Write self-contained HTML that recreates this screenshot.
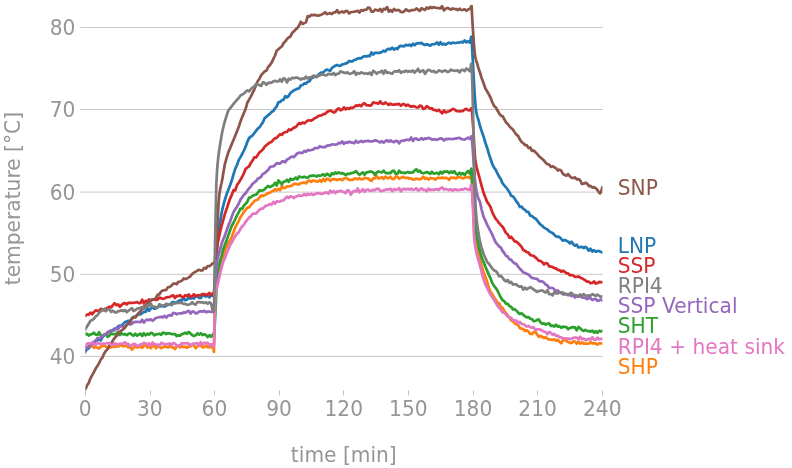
<!DOCTYPE html>
<html><head><meta charset="utf-8"><title>temperature</title>
<style>
html,body{margin:0;padding:0;background:#fff;}
svg{display:block;font-family:"DejaVu Sans","Liberation Sans",sans-serif;font-size:20.2px;}
.g line{stroke:#c8c8c8;stroke-width:1;}
.t line{stroke:#c2c2c2;stroke-width:1;}
.c path{fill:none;stroke-width:2.75;stroke-linejoin:round;stroke-linecap:butt;}
.a text{fill:#969696;}
.l text{font-size:20.2px;}
</style></head><body>
<svg width="792" height="468" viewBox="0 0 792 468">
<rect width="792" height="468" fill="#ffffff"/>
<g class="g">
<line x1="80.2" x2="602.9" y1="27.5" y2="27.5"/>
<line x1="80.2" x2="602.9" y1="109.5" y2="109.5"/>
<line x1="80.2" x2="602.9" y1="192.1" y2="192.1"/>
<line x1="80.2" x2="602.9" y1="274.3" y2="274.3"/>
<line x1="80.2" x2="602.9" y1="356.4" y2="356.4"/>
</g>
<g class="t">
<line x1="85.5" x2="85.5" y1="390.5" y2="395.4"/>
<line x1="150.5" x2="150.5" y1="390.5" y2="395.4"/>
<line x1="214.5" x2="214.5" y1="390.5" y2="395.4"/>
<line x1="279.5" x2="279.5" y1="390.5" y2="395.4"/>
<line x1="343.5" x2="343.5" y1="390.5" y2="395.4"/>
<line x1="408.5" x2="408.5" y1="390.5" y2="395.4"/>
<line x1="473.5" x2="473.5" y1="390.5" y2="395.4"/>
<line x1="537.5" x2="537.5" y1="390.5" y2="395.4"/>
<line x1="602.5" x2="602.5" y1="390.5" y2="395.4"/>
</g>
<g class="a">
<text transform="translate(85.20,416.30) scale(1,1.03)" text-anchor="middle">0</text>
<text transform="translate(149.83,416.30) scale(1,1.03)" text-anchor="middle">30</text>
<text transform="translate(214.45,416.30) scale(1,1.03)" text-anchor="middle">60</text>
<text transform="translate(279.07,416.30) scale(1,1.03)" text-anchor="middle">90</text>
<text transform="translate(343.70,416.30) scale(1,1.03)" text-anchor="middle">120</text>
<text transform="translate(408.32,416.30) scale(1,1.03)" text-anchor="middle">150</text>
<text transform="translate(472.95,416.30) scale(1,1.03)" text-anchor="middle">180</text>
<text transform="translate(537.57,416.30) scale(1,1.03)" text-anchor="middle">210</text>
<text transform="translate(602.20,416.30) scale(1,1.03)" text-anchor="middle">240</text>
<text transform="translate(75.40,364.10) scale(1,1.03)" text-anchor="end">40</text>
<text transform="translate(75.40,281.87) scale(1,1.03)" text-anchor="end">50</text>
<text transform="translate(75.40,199.65) scale(1,1.03)" text-anchor="end">60</text>
<text transform="translate(75.40,117.42) scale(1,1.03)" text-anchor="end">70</text>
<text transform="translate(75.40,35.20) scale(1,1.03)" text-anchor="end">80</text>
<text transform="translate(343.80,461.50) scale(1,1.03)" text-anchor="middle">time [min]</text>
<text transform="translate(20.0,198.6) rotate(-90) scale(1,1.03)" text-anchor="middle">temperature [°C]</text>
</g>
<clipPath id="ax"><rect x="85.4" y="5" width="517" height="385.6"/></clipPath>
<g class="c" clip-path="url(#ax)">
<path d="M82.8,355.6 L85.3,351.7 L87.0,349.0 L88.7,348.4 L90.5,346.0 L92.2,344.5 L93.9,343.2 L95.6,340.5 L97.4,340.4 L99.1,338.6 L100.8,340.4 L102.5,336.9 L104.3,335.2 L106.0,334.1 L107.7,332.6 L109.4,331.2 L111.2,330.6 L112.9,330.1 L114.6,328.5 L116.3,328.4 L118.1,326.4 L119.8,325.6 L121.5,325.7 L123.2,323.9 L125.0,322.1 L126.7,321.4 L128.4,320.9 L130.1,321.0 L131.9,318.2 L133.6,317.2 L135.3,317.2 L137.0,314.8 L138.8,314.3 L140.5,314.3 L142.2,313.2 L143.9,312.0 L145.7,311.8 L147.4,308.2 L149.1,310.8 L150.8,308.5 L152.5,307.4 L154.3,308.6 L156.0,308.5 L157.7,307.0 L159.4,306.0 L161.2,306.4 L162.9,305.9 L164.6,306.6 L166.3,305.5 L168.1,304.5 L169.8,304.7 L171.5,303.0 L173.2,301.9 L175.0,302.7 L176.7,302.2 L178.4,301.0 L180.1,300.1 L181.9,300.6 L183.6,297.7 L185.3,300.2 L187.0,299.7 L188.8,297.4 L190.5,298.6 L192.2,297.4 L193.9,298.6 L195.7,295.8 L197.4,296.5 L199.1,297.8 L200.8,298.0 L202.6,294.6 L204.3,296.0 L206.0,296.5 L207.7,295.5 L209.5,297.4 L211.2,294.6 L212.9,296.0 L213.0,295.9 L213.3,295.6 L213.6,295.3 L213.9,295.2 L214.2,294.0 L214.5,291.6 L214.6,290.4 L214.8,288.5 L215.1,284.9 L215.4,281.2 L215.7,277.3 L216.0,272.0 L216.3,265.8 L216.3,264.7 L216.6,259.1 L216.9,252.5 L217.2,246.5 L217.5,241.5 L217.8,238.0 L218.1,235.5 L218.1,235.2 L218.4,232.8 L218.7,230.6 L219.0,228.6 L219.3,226.8 L219.6,225.0 L219.8,223.9 L219.9,223.3 L220.2,221.4 L220.5,219.6 L220.8,217.7 L221.1,215.9 L221.4,214.1 L221.5,213.4 L221.7,212.6 L222.0,211.1 L222.3,209.7 L222.6,208.4 L222.9,207.2 L223.2,206.1 L223.2,206.0 L223.5,204.9 L223.8,203.7 L225.0,199.3 L226.7,194.1 L228.4,189.8 L230.1,185.3 L231.9,180.0 L233.6,174.2 L235.3,168.6 L237.0,165.0 L238.8,159.9 L240.5,157.1 L242.2,153.9 L243.9,150.5 L245.7,146.6 L247.4,141.7 L249.1,138.1 L250.8,136.6 L252.6,135.3 L254.3,133.2 L256.0,130.9 L257.7,128.7 L259.5,127.2 L261.2,124.8 L262.9,122.2 L264.6,118.2 L266.4,116.8 L268.1,115.1 L269.8,114.0 L271.5,111.9 L273.3,111.1 L275.0,108.3 L276.7,106.4 L278.4,102.3 L280.1,101.9 L281.9,100.2 L283.6,99.6 L285.3,96.2 L287.0,97.3 L288.8,95.9 L290.5,92.8 L292.2,91.6 L293.9,90.3 L295.7,89.6 L297.4,88.7 L299.1,88.4 L300.8,85.5 L302.6,85.0 L304.3,83.4 L306.0,83.6 L307.7,81.8 L309.5,81.2 L311.2,78.2 L312.9,77.7 L314.6,76.1 L316.4,76.9 L318.1,75.2 L319.8,73.5 L321.5,72.5 L323.3,72.4 L325.0,70.6 L326.7,69.6 L328.4,70.0 L330.2,70.9 L331.9,67.9 L333.6,66.9 L335.3,65.7 L337.1,64.9 L338.8,65.9 L340.5,65.6 L342.2,64.3 L344.0,64.1 L345.7,63.4 L347.4,62.9 L349.1,61.0 L350.8,61.4 L352.6,61.3 L354.3,59.9 L356.0,59.5 L357.7,58.5 L359.5,58.2 L361.2,58.4 L362.9,56.7 L364.6,56.2 L366.4,56.5 L368.1,55.8 L369.8,56.2 L371.5,52.4 L373.3,54.5 L375.0,52.8 L376.7,52.9 L378.4,52.9 L380.2,52.6 L381.9,52.0 L383.6,50.7 L385.3,51.5 L387.1,49.3 L388.8,48.9 L390.5,49.3 L392.2,47.7 L394.0,49.7 L395.7,48.3 L397.4,49.0 L399.1,46.6 L400.9,45.9 L402.6,46.1 L404.3,46.3 L406.0,44.8 L407.8,45.4 L409.5,44.7 L411.2,46.0 L412.9,43.7 L414.6,45.2 L416.4,43.5 L418.1,43.2 L419.8,43.4 L421.5,42.9 L423.3,44.3 L425.0,45.1 L426.7,44.3 L428.4,44.7 L430.2,45.7 L431.9,44.3 L433.6,44.2 L435.3,43.8 L437.1,42.4 L438.8,44.7 L440.5,42.2 L442.2,44.5 L444.0,43.7 L445.7,44.7 L447.4,43.5 L449.1,42.6 L450.9,43.6 L452.6,42.6 L454.3,42.9 L456.0,43.0 L457.8,42.7 L459.5,42.6 L461.2,41.9 L462.9,42.5 L464.7,40.5 L466.4,42.3 L468.1,41.2 L469.8,42.6 L470.5,40.5 L470.8,38.6 L471.1,37.1 L471.4,36.6 L471.6,36.9 L471.7,38.5 L472.0,44.2 L472.3,50.9 L472.6,56.7 L472.9,62.4 L473.2,68.2 L473.3,69.7 L473.5,74.2 L473.8,80.0 L474.1,85.5 L474.4,90.4 L474.7,94.9 L475.0,99.2 L475.0,99.2 L475.3,103.1 L475.6,106.6 L475.9,109.3 L476.2,111.2 L476.5,112.9 L476.7,114.0 L476.8,114.3 L477.1,115.6 L477.4,116.7 L477.7,117.7 L478.0,118.6 L478.3,119.5 L478.4,120.0 L478.6,120.5 L478.9,121.7 L479.2,122.8 L479.5,124.0 L479.8,125.2 L480.1,126.3 L480.2,126.6 L480.4,127.3 L480.7,128.2 L481.0,129.2 L481.3,130.1 L481.6,131.0 L481.9,131.8 L481.9,131.8 L483.6,136.7 L485.3,142.5 L487.1,147.7 L488.8,153.6 L490.5,158.8 L492.2,163.8 L494.0,167.5 L495.7,169.9 L497.4,173.3 L499.1,176.6 L500.9,179.2 L502.6,183.4 L504.3,185.4 L506.0,187.3 L507.8,189.8 L509.5,192.3 L511.2,195.8 L512.9,196.3 L514.7,198.8 L516.4,201.5 L518.1,203.5 L519.8,207.0 L521.6,206.6 L523.3,208.9 L525.0,209.9 L526.7,211.7 L528.5,212.1 L530.2,215.7 L531.9,215.9 L533.6,217.6 L535.4,218.5 L537.1,220.3 L538.8,222.7 L540.5,224.5 L542.2,225.8 L544.0,227.6 L545.7,228.6 L547.4,229.4 L549.1,231.2 L550.9,232.3 L552.6,233.0 L554.3,234.8 L556.0,236.4 L557.8,236.6 L559.5,237.1 L561.2,238.9 L562.9,240.7 L564.7,239.9 L566.4,240.8 L568.1,241.5 L569.8,243.4 L571.6,241.7 L573.3,244.3 L575.0,245.7 L576.7,244.7 L578.5,247.4 L580.2,247.2 L581.9,246.8 L583.6,248.0 L585.4,246.9 L587.1,248.2 L588.8,250.7 L590.5,248.7 L592.3,251.5 L594.0,250.2 L595.7,251.6 L597.4,251.2 L599.2,251.0 L600.9,251.9 L602.6,252.6 L605.1,252.6" stroke="#1f77b4"/>
<path d="M82.8,346.8 L85.3,347.0 L87.0,347.2 L88.7,346.3 L90.5,345.3 L92.2,346.3 L93.9,347.8 L95.6,346.5 L97.4,347.8 L99.1,348.4 L100.8,346.9 L102.5,345.8 L104.3,345.6 L106.0,346.8 L107.7,347.7 L109.4,347.1 L111.2,347.4 L112.9,346.4 L114.6,347.1 L116.3,346.3 L118.1,346.5 L119.8,345.5 L121.5,345.2 L123.2,346.3 L125.0,345.7 L126.7,345.8 L128.4,347.4 L130.1,346.6 L131.9,349.6 L133.6,347.7 L135.3,346.1 L137.0,347.5 L138.8,347.1 L140.5,346.0 L142.2,347.8 L143.9,345.9 L145.7,343.6 L147.4,347.5 L149.1,346.1 L150.8,348.2 L152.5,346.1 L154.3,345.5 L156.0,348.2 L157.7,345.6 L159.4,346.9 L161.2,348.1 L162.9,346.8 L164.6,346.6 L166.3,346.8 L168.1,347.5 L169.8,345.9 L171.5,347.3 L173.2,347.3 L175.0,349.0 L176.7,346.4 L178.4,345.8 L180.1,347.4 L181.9,346.3 L183.6,347.0 L185.3,346.8 L187.0,347.9 L188.8,346.0 L190.5,346.6 L192.2,344.1 L193.9,345.8 L195.7,348.2 L197.4,346.0 L199.1,346.0 L200.8,345.5 L202.6,347.3 L204.3,346.9 L206.0,345.5 L207.7,347.4 L209.5,347.0 L211.2,347.5 L212.9,346.1 L213.0,346.2 L213.3,346.7 L213.6,349.3 L213.9,351.9 L214.2,341.4 L214.5,320.1 L214.6,311.5 L214.8,302.5 L215.1,297.9 L215.4,295.1 L215.7,292.9 L216.0,291.1 L216.3,289.7 L216.3,289.5 L216.6,288.4 L216.9,287.1 L217.2,285.6 L217.5,283.9 L217.8,282.2 L218.1,280.6 L218.1,280.5 L218.4,278.8 L218.7,277.2 L219.0,275.6 L219.3,274.0 L219.6,272.5 L219.8,271.5 L219.9,271.0 L220.2,269.5 L220.5,268.1 L220.8,266.8 L221.1,265.5 L221.4,264.2 L221.5,263.6 L221.7,262.9 L222.0,261.7 L222.3,260.5 L222.6,259.3 L222.9,258.1 L223.2,256.9 L223.2,256.8 L223.5,255.7 L223.8,254.5 L225.0,250.1 L226.7,246.3 L228.4,242.9 L230.1,240.4 L231.9,236.5 L233.6,231.9 L235.3,227.0 L237.0,224.2 L238.8,220.8 L240.5,217.2 L242.2,214.7 L243.9,211.8 L245.7,209.8 L247.4,207.6 L249.1,207.4 L250.8,205.1 L252.6,203.2 L254.3,201.1 L256.0,200.3 L257.7,199.7 L259.5,197.5 L261.2,195.4 L262.9,196.1 L264.6,195.3 L266.4,194.2 L268.1,193.3 L269.8,192.8 L271.5,191.5 L273.3,191.0 L275.0,189.1 L276.7,190.5 L278.4,188.9 L280.1,190.1 L281.9,186.0 L283.6,188.1 L285.3,187.9 L287.0,186.3 L288.8,186.4 L290.5,186.1 L292.2,185.4 L293.9,183.9 L295.7,183.8 L297.4,184.4 L299.1,184.4 L300.8,183.0 L302.6,182.8 L304.3,182.7 L306.0,183.3 L307.7,181.1 L309.5,180.6 L311.2,181.9 L312.9,180.5 L314.6,180.9 L316.4,181.4 L318.1,181.6 L319.8,180.0 L321.5,181.7 L323.3,179.0 L325.0,181.1 L326.7,178.9 L328.4,179.1 L330.2,180.8 L331.9,179.6 L333.6,179.1 L335.3,179.3 L337.1,180.0 L338.8,179.4 L340.5,179.3 L342.2,180.2 L344.0,178.4 L345.7,178.5 L347.4,178.4 L349.1,180.0 L350.8,179.8 L352.6,180.0 L354.3,178.7 L356.0,178.5 L357.7,179.4 L359.5,178.2 L361.2,179.3 L362.9,179.2 L364.6,177.8 L366.4,178.3 L368.1,178.3 L369.8,180.1 L371.5,180.9 L373.3,178.2 L375.0,178.3 L376.7,176.0 L378.4,178.4 L380.2,178.2 L381.9,177.1 L383.6,178.9 L385.3,176.6 L387.1,177.9 L388.8,178.2 L390.5,176.8 L392.2,178.9 L394.0,179.1 L395.7,176.6 L397.4,176.6 L399.1,178.6 L400.9,178.0 L402.6,176.8 L404.3,177.7 L406.0,177.9 L407.8,177.8 L409.5,178.8 L411.2,178.3 L412.9,179.7 L414.6,179.3 L416.4,178.6 L418.1,179.0 L419.8,179.3 L421.5,178.6 L423.3,176.7 L425.0,178.8 L426.7,178.0 L428.4,179.6 L430.2,178.0 L431.9,178.5 L433.6,178.3 L435.3,179.6 L437.1,178.1 L438.8,177.7 L440.5,178.2 L442.2,177.5 L444.0,178.1 L445.7,177.9 L447.4,178.2 L449.1,179.8 L450.9,177.5 L452.6,177.9 L454.3,177.7 L456.0,178.6 L457.8,176.7 L459.5,177.2 L461.2,177.8 L462.9,178.4 L464.7,177.8 L466.4,177.3 L468.1,177.0 L469.8,178.1 L470.5,177.0 L470.8,175.9 L471.1,175.0 L471.4,174.8 L471.6,174.8 L471.7,175.9 L472.0,180.0 L472.3,185.9 L472.6,192.3 L472.9,198.3 L473.2,203.5 L473.3,204.8 L473.5,209.0 L473.8,214.5 L474.1,219.6 L474.4,223.9 L474.7,227.1 L475.0,229.9 L475.0,229.9 L475.3,232.5 L475.6,234.7 L475.9,236.9 L476.2,238.9 L476.5,240.9 L476.7,242.4 L476.8,243.0 L477.1,244.9 L477.4,246.8 L477.7,248.7 L478.0,250.5 L478.3,252.2 L478.4,252.9 L478.6,253.8 L478.9,255.3 L479.2,256.7 L479.5,258.1 L479.8,259.4 L480.1,260.6 L480.2,260.9 L480.4,261.7 L480.7,262.8 L481.0,263.9 L481.3,264.9 L481.6,265.9 L481.9,266.9 L481.9,266.9 L483.6,272.2 L485.3,276.8 L487.1,281.8 L488.8,287.5 L490.5,291.7 L492.2,294.0 L494.0,297.3 L495.7,299.8 L497.4,302.5 L499.1,303.2 L500.9,307.1 L502.6,307.8 L504.3,311.2 L506.0,313.2 L507.8,315.5 L509.5,317.8 L511.2,320.5 L512.9,321.3 L514.7,323.2 L516.4,324.5 L518.1,324.8 L519.8,328.1 L521.6,328.6 L523.3,329.1 L525.0,331.0 L526.7,330.1 L528.5,331.6 L530.2,333.9 L531.9,334.1 L533.6,332.1 L535.4,331.8 L537.1,334.4 L538.8,336.8 L540.5,336.0 L542.2,336.8 L544.0,338.0 L545.7,337.2 L547.4,338.6 L549.1,339.5 L550.9,339.6 L552.6,339.9 L554.3,339.3 L556.0,340.6 L557.8,339.9 L559.5,341.8 L561.2,343.2 L562.9,340.3 L564.7,339.2 L566.4,341.0 L568.1,342.0 L569.8,342.8 L571.6,343.0 L573.3,341.4 L575.0,341.6 L576.7,343.7 L578.5,341.5 L580.2,343.7 L581.9,342.5 L583.6,343.5 L585.4,343.5 L587.1,343.6 L588.8,343.7 L590.5,342.1 L592.3,343.4 L594.0,343.2 L595.7,343.6 L597.4,344.6 L599.2,343.4 L600.9,343.4 L602.6,343.5 L605.1,343.5" stroke="#ff7f0e"/>
<path d="M82.8,334.8 L85.3,334.2 L87.0,333.8 L88.7,335.5 L90.5,334.5 L92.2,334.0 L93.9,332.7 L95.6,334.5 L97.4,335.0 L99.1,332.3 L100.8,335.5 L102.5,336.0 L104.3,334.6 L106.0,334.7 L107.7,336.9 L109.4,335.6 L111.2,333.2 L112.9,334.2 L114.6,334.0 L116.3,334.0 L118.1,331.6 L119.8,335.0 L121.5,333.5 L123.2,334.4 L125.0,334.1 L126.7,335.2 L128.4,333.9 L130.1,333.3 L131.9,334.8 L133.6,335.7 L135.3,333.8 L137.0,335.7 L138.8,334.5 L140.5,333.6 L142.2,335.9 L143.9,333.3 L145.7,335.3 L147.4,333.7 L149.1,334.7 L150.8,332.8 L152.5,333.3 L154.3,335.4 L156.0,334.4 L157.7,334.2 L159.4,333.7 L161.2,334.7 L162.9,332.7 L164.6,333.0 L166.3,334.0 L168.1,333.3 L169.8,333.4 L171.5,334.1 L173.2,334.0 L175.0,334.0 L176.7,336.0 L178.4,335.3 L180.1,335.6 L181.9,334.2 L183.6,333.6 L185.3,332.6 L187.0,333.8 L188.8,331.9 L190.5,333.6 L192.2,335.0 L193.9,336.0 L195.7,335.3 L197.4,333.3 L199.1,334.7 L200.8,333.3 L202.6,335.1 L204.3,334.1 L206.0,335.1 L207.7,337.0 L209.5,335.2 L211.2,336.8 L212.9,334.4 L213.0,334.4 L213.3,334.3 L213.6,334.2 L213.9,334.0 L214.2,331.8 L214.5,327.8 L214.6,325.9 L214.8,323.1 L215.1,318.4 L215.4,312.7 L215.7,305.8 L216.0,298.5 L216.3,291.4 L216.3,290.3 L216.6,285.1 L216.9,280.4 L217.2,277.5 L217.5,275.1 L217.8,273.0 L218.1,271.4 L218.1,271.2 L218.4,269.4 L218.7,267.8 L219.0,266.2 L219.3,264.6 L219.6,263.1 L219.8,262.2 L219.9,261.8 L220.2,260.6 L220.5,259.5 L220.8,258.4 L221.1,257.4 L221.4,256.4 L221.5,256.0 L221.7,255.3 L222.0,254.1 L222.3,253.0 L222.6,251.8 L222.9,250.7 L223.2,249.5 L223.2,249.4 L223.5,248.6 L223.8,247.7 L225.0,244.4 L226.7,240.1 L228.4,235.1 L230.1,230.3 L231.9,225.6 L233.6,222.5 L235.3,219.0 L237.0,215.4 L238.8,212.2 L240.5,208.7 L242.2,208.8 L243.9,205.7 L245.7,203.6 L247.4,201.8 L249.1,197.6 L250.8,197.3 L252.6,195.8 L254.3,195.0 L256.0,194.7 L257.7,193.0 L259.5,190.2 L261.2,190.7 L262.9,190.4 L264.6,189.4 L266.4,187.3 L268.1,186.0 L269.8,187.1 L271.5,186.2 L273.3,185.2 L275.0,182.9 L276.7,185.5 L278.4,180.5 L280.1,182.3 L281.9,184.2 L283.6,181.6 L285.3,181.5 L287.0,179.7 L288.8,181.8 L290.5,178.8 L292.2,179.8 L293.9,179.2 L295.7,177.6 L297.4,179.2 L299.1,176.5 L300.8,177.0 L302.6,177.4 L304.3,176.8 L306.0,177.4 L307.7,177.7 L309.5,176.2 L311.2,175.8 L312.9,175.6 L314.6,175.6 L316.4,176.6 L318.1,175.4 L319.8,175.9 L321.5,175.2 L323.3,174.3 L325.0,175.9 L326.7,173.8 L328.4,174.7 L330.2,176.1 L331.9,173.3 L333.6,174.2 L335.3,172.5 L337.1,173.5 L338.8,172.3 L340.5,173.4 L342.2,173.1 L344.0,173.7 L345.7,175.2 L347.4,173.7 L349.1,174.0 L350.8,173.2 L352.6,173.0 L354.3,172.3 L356.0,171.2 L357.7,173.2 L359.5,174.8 L361.2,173.5 L362.9,172.4 L364.6,174.7 L366.4,172.4 L368.1,172.2 L369.8,171.5 L371.5,171.7 L373.3,172.5 L375.0,174.9 L376.7,172.5 L378.4,171.5 L380.2,172.0 L381.9,172.4 L383.6,170.7 L385.3,172.7 L387.1,173.3 L388.8,172.9 L390.5,173.2 L392.2,171.1 L394.0,170.7 L395.7,173.9 L397.4,173.7 L399.1,170.8 L400.9,172.7 L402.6,172.5 L404.3,173.1 L406.0,172.7 L407.8,172.0 L409.5,172.7 L411.2,172.7 L412.9,172.5 L414.6,170.5 L416.4,169.2 L418.1,171.6 L419.8,170.7 L421.5,172.8 L423.3,173.3 L425.0,172.8 L426.7,172.1 L428.4,172.6 L430.2,173.8 L431.9,171.7 L433.6,173.6 L435.3,173.3 L437.1,172.8 L438.8,174.2 L440.5,171.8 L442.2,173.6 L444.0,171.5 L445.7,171.7 L447.4,171.4 L449.1,173.1 L450.9,171.5 L452.6,172.6 L454.3,171.3 L456.0,173.8 L457.8,174.6 L459.5,172.8 L461.2,174.4 L462.9,173.2 L464.7,175.0 L466.4,172.7 L468.1,170.9 L469.8,173.6 L470.5,171.9 L470.8,170.5 L471.1,169.4 L471.4,168.8 L471.6,169.6 L471.7,171.7 L472.0,178.8 L472.3,187.7 L472.6,195.9 L472.9,201.4 L473.2,205.6 L473.3,206.6 L473.5,209.5 L473.8,212.9 L474.1,216.0 L474.4,218.9 L474.7,221.6 L475.0,224.1 L475.0,224.1 L475.3,226.4 L475.6,228.6 L475.9,230.6 L476.2,232.4 L476.5,234.2 L476.7,235.4 L476.8,235.9 L477.1,237.6 L477.4,239.3 L477.7,241.0 L478.0,242.6 L478.3,244.1 L478.4,244.9 L478.6,245.5 L478.9,246.8 L479.2,248.1 L479.5,249.3 L479.8,250.4 L480.1,251.4 L480.2,251.7 L480.4,252.6 L480.7,253.8 L481.0,254.9 L481.3,255.9 L481.6,257.0 L481.9,258.0 L481.9,258.0 L483.6,262.3 L485.3,266.6 L487.1,270.5 L488.8,274.8 L490.5,278.2 L492.2,282.9 L494.0,285.9 L495.7,288.0 L497.4,290.6 L499.1,294.0 L500.9,297.6 L502.6,300.3 L504.3,301.3 L506.0,303.6 L507.8,303.9 L509.5,306.2 L511.2,306.7 L512.9,309.4 L514.7,309.2 L516.4,310.7 L518.1,312.6 L519.8,314.0 L521.6,313.2 L523.3,314.9 L525.0,316.4 L526.7,317.4 L528.5,317.1 L530.2,318.7 L531.9,319.0 L533.6,321.2 L535.4,321.0 L537.1,319.8 L538.8,319.5 L540.5,322.3 L542.2,323.8 L544.0,323.4 L545.7,324.6 L547.4,323.8 L549.1,323.4 L550.9,325.9 L552.6,325.6 L554.3,326.5 L556.0,324.8 L557.8,326.7 L559.5,326.1 L561.2,327.8 L562.9,326.6 L564.7,326.8 L566.4,327.1 L568.1,329.2 L569.8,328.0 L571.6,327.4 L573.3,327.2 L575.0,327.4 L576.7,330.2 L578.5,327.0 L580.2,328.2 L581.9,330.0 L583.6,330.9 L585.4,329.8 L587.1,331.0 L588.8,331.2 L590.5,331.6 L592.3,330.7 L594.0,332.6 L595.7,331.2 L597.4,332.7 L599.2,330.8 L600.9,331.5 L602.6,330.8 L605.1,330.8" stroke="#2ca02c"/>
<path d="M82.8,317.4 L85.3,315.8 L87.0,314.7 L88.7,314.7 L90.5,312.6 L92.2,314.2 L93.9,312.1 L95.6,310.4 L97.4,310.9 L99.1,310.9 L100.8,308.9 L102.5,309.5 L104.3,310.4 L106.0,308.9 L107.7,307.6 L109.4,306.7 L111.2,307.4 L112.9,305.1 L114.6,303.2 L116.3,305.2 L118.1,304.4 L119.8,306.8 L121.5,305.0 L123.2,303.6 L125.0,303.1 L126.7,304.4 L128.4,302.8 L130.1,302.8 L131.9,302.9 L133.6,302.8 L135.3,302.5 L137.0,302.2 L138.8,303.1 L140.5,303.2 L142.2,299.7 L143.9,303.5 L145.7,300.8 L147.4,301.6 L149.1,299.4 L150.8,300.2 L152.5,299.8 L154.3,299.5 L156.0,300.0 L157.7,299.5 L159.4,297.6 L161.2,298.2 L162.9,298.8 L164.6,298.5 L166.3,297.3 L168.1,297.1 L169.8,297.0 L171.5,295.8 L173.2,295.4 L175.0,298.0 L176.7,295.8 L178.4,296.1 L180.1,295.1 L181.9,297.0 L183.6,297.3 L185.3,295.2 L187.0,295.9 L188.8,294.5 L190.5,297.1 L192.2,296.1 L193.9,294.3 L195.7,296.4 L197.4,295.4 L199.1,295.4 L200.8,295.2 L202.6,294.0 L204.3,294.0 L206.0,295.0 L207.7,294.1 L209.5,293.0 L211.2,295.6 L212.9,293.1 L213.0,293.0 L213.3,292.9 L213.6,292.8 L213.9,292.7 L214.2,290.0 L214.5,285.0 L214.6,282.6 L214.8,279.0 L215.1,273.2 L215.4,268.5 L215.7,264.0 L216.0,259.6 L216.3,255.3 L216.3,254.6 L216.6,251.5 L216.9,248.4 L217.2,246.1 L217.5,244.2 L217.8,242.5 L218.1,241.2 L218.1,241.0 L218.4,239.6 L218.7,238.2 L219.0,236.8 L219.3,235.4 L219.6,234.1 L219.8,233.2 L219.9,232.8 L220.2,231.5 L220.5,230.2 L220.8,228.9 L221.1,227.7 L221.4,226.5 L221.5,226.0 L221.7,225.4 L222.0,224.3 L222.3,223.3 L222.6,222.2 L222.9,221.2 L223.2,220.2 L223.2,220.1 L223.5,219.1 L223.8,217.9 L225.0,213.5 L226.7,208.8 L228.4,203.5 L230.1,198.5 L231.9,194.6 L233.6,190.1 L235.3,190.3 L237.0,185.1 L238.8,182.6 L240.5,179.8 L242.2,176.6 L243.9,173.3 L245.7,168.8 L247.4,167.5 L249.1,166.3 L250.8,163.0 L252.6,160.5 L254.3,157.4 L256.0,157.5 L257.7,155.1 L259.5,152.3 L261.2,151.1 L262.9,149.4 L264.6,146.8 L266.4,145.3 L268.1,143.8 L269.8,142.5 L271.5,141.9 L273.3,139.8 L275.0,138.3 L276.7,137.9 L278.4,135.9 L280.1,134.2 L281.9,134.9 L283.6,132.7 L285.3,132.2 L287.0,131.8 L288.8,129.5 L290.5,130.1 L292.2,129.0 L293.9,127.6 L295.7,127.1 L297.4,125.2 L299.1,123.1 L300.8,123.9 L302.6,122.5 L304.3,123.3 L306.0,122.0 L307.7,120.5 L309.5,120.3 L311.2,120.6 L312.9,119.6 L314.6,118.2 L316.4,117.5 L318.1,116.1 L319.8,115.6 L321.5,115.5 L323.3,114.2 L325.0,114.0 L326.7,112.2 L328.4,111.2 L330.2,110.6 L331.9,111.3 L333.6,112.5 L335.3,111.9 L337.1,109.4 L338.8,108.5 L340.5,110.3 L342.2,109.6 L344.0,107.4 L345.7,109.4 L347.4,108.2 L349.1,108.9 L350.8,107.7 L352.6,107.9 L354.3,107.0 L356.0,105.4 L357.7,105.8 L359.5,105.0 L361.2,106.2 L362.9,104.1 L364.6,103.3 L366.4,105.2 L368.1,105.4 L369.8,105.6 L371.5,105.1 L373.3,102.3 L375.0,103.0 L376.7,103.1 L378.4,103.6 L380.2,101.4 L381.9,103.6 L383.6,103.9 L385.3,102.5 L387.1,103.6 L388.8,104.8 L390.5,103.6 L392.2,104.7 L394.0,104.7 L395.7,104.2 L397.4,104.4 L399.1,103.9 L400.9,105.7 L402.6,104.2 L404.3,104.2 L406.0,105.8 L407.8,104.6 L409.5,106.0 L411.2,106.8 L412.9,106.1 L414.6,106.4 L416.4,107.4 L418.1,107.5 L419.8,105.6 L421.5,106.1 L423.3,108.9 L425.0,108.3 L426.7,106.2 L428.4,107.2 L430.2,108.8 L431.9,108.2 L433.6,110.0 L435.3,110.1 L437.1,111.0 L438.8,109.8 L440.5,111.8 L442.2,113.3 L444.0,110.4 L445.7,112.4 L447.4,111.8 L449.1,111.2 L450.9,110.3 L452.6,109.0 L454.3,109.1 L456.0,110.8 L457.8,111.1 L459.5,111.3 L461.2,111.0 L462.9,111.0 L464.7,109.6 L466.4,108.8 L468.1,110.2 L469.8,110.4 L470.5,109.6 L470.8,108.9 L471.1,108.4 L471.4,108.1 L471.6,108.3 L471.7,109.0 L472.0,111.6 L472.3,115.3 L472.6,119.4 L472.9,123.6 L473.2,127.5 L473.3,128.6 L473.5,132.3 L473.8,137.6 L474.1,143.0 L474.4,148.3 L474.7,153.1 L475.0,157.1 L475.0,157.1 L475.3,159.9 L475.6,161.8 L475.9,163.5 L476.2,165.0 L476.5,166.4 L476.7,167.3 L476.8,167.7 L477.1,168.9 L477.4,170.1 L477.7,171.3 L478.0,172.4 L478.3,173.5 L478.4,174.1 L478.6,174.6 L478.9,175.6 L479.2,176.7 L479.5,177.8 L479.8,178.9 L480.1,179.9 L480.2,180.2 L480.4,181.1 L480.7,182.3 L481.0,183.5 L481.3,184.7 L481.6,185.8 L481.9,186.9 L481.9,186.9 L483.6,192.8 L485.3,197.3 L487.1,201.8 L488.8,204.1 L490.5,207.0 L492.2,212.1 L494.0,215.7 L495.7,218.8 L497.4,220.7 L499.1,223.2 L500.9,225.2 L502.6,226.8 L504.3,229.8 L506.0,233.0 L507.8,234.5 L509.5,237.9 L511.2,236.8 L512.9,239.0 L514.7,241.4 L516.4,241.7 L518.1,243.1 L519.8,244.8 L521.6,246.9 L523.3,250.1 L525.0,250.7 L526.7,252.1 L528.5,252.6 L530.2,254.9 L531.9,255.5 L533.6,255.9 L535.4,257.4 L537.1,258.9 L538.8,260.8 L540.5,260.8 L542.2,262.2 L544.0,264.4 L545.7,263.0 L547.4,263.5 L549.1,266.2 L550.9,266.6 L552.6,267.0 L554.3,268.1 L556.0,268.4 L557.8,269.9 L559.5,270.0 L561.2,271.7 L562.9,270.7 L564.7,271.7 L566.4,273.2 L568.1,273.4 L569.8,275.2 L571.6,275.2 L573.3,275.5 L575.0,276.8 L576.7,276.8 L578.5,276.5 L580.2,277.5 L581.9,278.4 L583.6,279.3 L585.4,280.4 L587.1,281.6 L588.8,281.7 L590.5,283.1 L592.3,282.8 L594.0,281.5 L595.7,283.5 L597.4,283.1 L599.2,281.8 L600.9,282.1 L602.6,282.4 L605.1,282.4" stroke="#d62728"/>
<path d="M82.8,351.7 L85.3,349.5 L87.0,348.0 L88.7,346.9 L90.5,344.7 L92.2,343.7 L93.9,341.8 L95.6,341.1 L97.4,338.1 L99.1,338.3 L100.8,337.7 L102.5,336.1 L104.3,334.6 L106.0,334.1 L107.7,332.2 L109.4,331.3 L111.2,330.9 L112.9,330.3 L114.6,330.4 L116.3,328.2 L118.1,329.1 L119.8,326.4 L121.5,326.4 L123.2,326.4 L125.0,326.8 L126.7,324.8 L128.4,323.0 L130.1,324.6 L131.9,323.7 L133.6,322.4 L135.3,321.9 L137.0,321.8 L138.8,322.0 L140.5,322.1 L142.2,319.8 L143.9,322.6 L145.7,320.2 L147.4,319.6 L149.1,320.1 L150.8,319.3 L152.5,320.8 L154.3,319.4 L156.0,317.8 L157.7,317.5 L159.4,317.1 L161.2,316.9 L162.9,317.4 L164.6,315.9 L166.3,317.5 L168.1,315.6 L169.8,315.1 L171.5,315.7 L173.2,312.8 L175.0,313.3 L176.7,314.3 L178.4,313.5 L180.1,313.3 L181.9,313.5 L183.6,312.4 L185.3,312.7 L187.0,311.5 L188.8,310.9 L190.5,313.6 L192.2,311.5 L193.9,311.6 L195.7,313.5 L197.4,313.1 L199.1,311.5 L200.8,311.4 L202.6,311.7 L204.3,310.8 L206.0,312.1 L207.7,311.6 L209.5,311.5 L211.2,312.0 L212.9,311.8 L213.0,311.9 L213.3,312.0 L213.6,312.0 L213.9,311.2 L214.2,308.4 L214.5,303.6 L214.6,301.3 L214.8,297.8 L215.1,291.9 L215.4,286.3 L215.7,279.4 L216.0,272.8 L216.3,267.8 L216.3,267.2 L216.6,265.1 L216.9,262.9 L217.2,261.0 L217.5,259.3 L217.8,257.8 L218.1,256.5 L218.1,256.4 L218.4,255.5 L218.7,254.5 L219.0,253.4 L219.3,252.4 L219.6,251.4 L219.8,250.7 L219.9,250.3 L220.2,249.2 L220.5,248.0 L220.8,246.9 L221.1,245.8 L221.4,244.8 L221.5,244.3 L221.7,243.8 L222.0,242.8 L222.3,242.0 L222.6,241.1 L222.9,240.3 L223.2,239.4 L223.2,239.3 L223.5,238.7 L223.8,238.1 L225.0,235.4 L226.7,230.1 L228.4,225.5 L230.1,221.5 L231.9,216.2 L233.6,212.0 L235.3,209.2 L237.0,206.7 L238.8,203.5 L240.5,199.6 L242.2,197.2 L243.9,194.7 L245.7,193.3 L247.4,190.5 L249.1,188.3 L250.8,186.6 L252.6,183.8 L254.3,182.5 L256.0,181.1 L257.7,178.7 L259.5,177.9 L261.2,176.6 L262.9,173.7 L264.6,173.2 L266.4,171.5 L268.1,170.1 L269.8,167.3 L271.5,166.5 L273.3,166.4 L275.0,165.1 L276.7,163.1 L278.4,163.3 L280.1,163.6 L281.9,161.7 L283.6,161.3 L285.3,162.3 L287.0,159.6 L288.8,158.7 L290.5,157.2 L292.2,156.5 L293.9,157.1 L295.7,155.0 L297.4,153.3 L299.1,152.7 L300.8,152.9 L302.6,152.9 L304.3,151.0 L306.0,151.7 L307.7,150.1 L309.5,150.3 L311.2,150.0 L312.9,149.6 L314.6,148.2 L316.4,148.0 L318.1,148.2 L319.8,146.2 L321.5,147.1 L323.3,147.1 L325.0,147.2 L326.7,145.9 L328.4,145.4 L330.2,145.4 L331.9,144.3 L333.6,144.5 L335.3,144.7 L337.1,144.3 L338.8,142.9 L340.5,143.3 L342.2,141.4 L344.0,143.8 L345.7,142.4 L347.4,142.9 L349.1,141.6 L350.8,142.4 L352.6,142.7 L354.3,143.1 L356.0,140.8 L357.7,142.7 L359.5,141.7 L361.2,141.0 L362.9,142.0 L364.6,141.2 L366.4,141.2 L368.1,140.7 L369.8,141.5 L371.5,141.3 L373.3,141.1 L375.0,140.3 L376.7,140.7 L378.4,141.6 L380.2,142.4 L381.9,141.2 L383.6,142.6 L385.3,141.2 L387.1,140.2 L388.8,141.8 L390.5,140.3 L392.2,141.6 L394.0,142.2 L395.7,140.9 L397.4,141.1 L399.1,143.3 L400.9,141.0 L402.6,140.6 L404.3,140.7 L406.0,139.8 L407.8,139.8 L409.5,140.1 L411.2,137.5 L412.9,141.0 L414.6,138.6 L416.4,138.5 L418.1,140.0 L419.8,139.5 L421.5,138.2 L423.3,139.6 L425.0,138.3 L426.7,138.7 L428.4,137.9 L430.2,138.5 L431.9,139.6 L433.6,139.3 L435.3,139.4 L437.1,139.9 L438.8,139.0 L440.5,138.4 L442.2,138.7 L444.0,140.5 L445.7,138.9 L447.4,139.2 L449.1,138.8 L450.9,139.0 L452.6,139.2 L454.3,138.7 L456.0,138.6 L457.8,138.0 L459.5,137.9 L461.2,139.0 L462.9,139.3 L464.7,139.5 L466.4,138.6 L468.1,137.7 L469.8,138.8 L470.5,137.9 L470.8,137.1 L471.1,136.5 L471.4,136.3 L471.6,136.4 L471.7,137.1 L472.0,139.7 L472.3,143.4 L472.6,147.4 L472.9,151.1 L473.2,155.4 L473.3,156.5 L473.5,160.2 L473.8,165.2 L474.1,169.9 L474.4,173.9 L474.7,177.1 L475.0,180.1 L475.0,180.1 L475.3,182.8 L475.6,185.2 L475.9,187.5 L476.2,189.4 L476.5,191.2 L476.7,192.2 L476.8,192.6 L477.1,193.9 L477.4,195.2 L477.7,196.3 L478.0,197.3 L478.3,198.2 L478.4,198.7 L478.6,199.0 L478.9,199.6 L479.2,200.2 L479.5,200.9 L479.8,201.7 L480.1,202.6 L480.2,202.8 L480.4,203.7 L480.7,205.2 L481.0,206.8 L481.3,208.3 L481.6,209.6 L481.9,210.7 L481.9,210.7 L483.6,217.0 L485.3,220.4 L487.1,224.6 L488.8,227.8 L490.5,231.2 L492.2,234.4 L494.0,238.7 L495.7,242.3 L497.4,244.3 L499.1,246.3 L500.9,247.7 L502.6,251.0 L504.3,253.0 L506.0,255.9 L507.8,256.6 L509.5,259.4 L511.2,259.7 L512.9,262.0 L514.7,263.4 L516.4,264.0 L518.1,266.5 L519.8,268.8 L521.6,270.4 L523.3,272.5 L525.0,272.8 L526.7,273.9 L528.5,274.5 L530.2,276.3 L531.9,278.0 L533.6,278.2 L535.4,278.7 L537.1,278.8 L538.8,280.9 L540.5,281.4 L542.2,281.3 L544.0,282.6 L545.7,284.7 L547.4,285.3 L549.1,288.2 L550.9,287.9 L552.6,288.0 L554.3,289.3 L556.0,291.6 L557.8,290.4 L559.5,292.5 L561.2,292.9 L562.9,294.3 L564.7,294.1 L566.4,293.8 L568.1,294.9 L569.8,294.9 L571.6,296.0 L573.3,295.4 L575.0,297.5 L576.7,296.0 L578.5,296.8 L580.2,296.2 L581.9,297.3 L583.6,297.6 L585.4,298.0 L587.1,299.0 L588.8,298.1 L590.5,298.1 L592.3,300.1 L594.0,299.1 L595.7,299.0 L597.4,300.9 L599.2,300.3 L600.9,299.6 L602.6,300.4 L605.1,300.4" stroke="#9467bd"/>
<path d="M82.8,394.7 L85.3,389.3 L87.0,385.6 L88.7,383.0 L90.5,378.3 L92.2,375.2 L93.9,372.1 L95.6,368.8 L97.4,366.1 L99.1,363.1 L100.8,359.5 L102.5,357.4 L104.3,353.3 L106.0,350.7 L107.7,349.1 L109.4,345.5 L111.2,343.6 L112.9,340.3 L114.6,338.2 L116.3,336.2 L118.1,334.3 L119.8,332.1 L121.5,330.5 L123.2,329.1 L125.0,327.6 L126.7,325.0 L128.4,323.6 L130.1,322.1 L131.9,318.9 L133.6,316.9 L135.3,317.4 L137.0,315.5 L138.8,312.9 L140.5,311.4 L142.2,308.7 L143.9,306.6 L145.7,306.0 L147.4,303.0 L149.1,303.1 L150.8,300.3 L152.5,299.5 L154.3,299.2 L156.0,297.7 L157.7,294.7 L159.4,294.3 L161.2,291.4 L162.9,290.5 L164.6,290.1 L166.3,289.8 L168.1,287.1 L169.8,287.0 L171.5,285.7 L173.2,283.7 L175.0,283.7 L176.7,284.1 L178.4,281.9 L180.1,281.5 L181.9,280.8 L183.6,278.5 L185.3,279.1 L187.0,278.4 L188.8,277.4 L190.5,276.2 L192.2,273.8 L193.9,272.7 L195.7,271.6 L197.4,270.6 L199.1,269.8 L200.8,270.5 L202.6,270.3 L204.3,267.8 L206.0,268.6 L207.7,266.1 L209.5,266.2 L211.2,264.8 L212.9,263.2 L213.0,263.2 L213.3,263.2 L213.6,263.0 L213.9,262.8 L214.2,262.5 L214.5,262.0 L214.6,261.6 L214.8,260.7 L215.1,258.3 L215.4,255.1 L215.7,251.4 L216.0,247.2 L216.3,242.9 L216.3,242.2 L216.6,238.5 L216.9,233.2 L217.2,227.3 L217.5,221.4 L217.8,216.0 L218.1,211.2 L218.1,210.7 L218.4,205.5 L218.7,201.1 L219.0,197.9 L219.3,195.3 L219.6,193.0 L219.8,191.7 L219.9,191.0 L220.2,189.2 L220.5,187.6 L220.8,186.1 L221.1,184.7 L221.4,183.5 L221.5,183.0 L221.7,182.3 L222.0,180.8 L222.3,179.2 L222.6,177.5 L222.9,175.7 L223.2,173.8 L223.2,173.5 L223.5,171.9 L223.8,170.1 L225.0,163.6 L226.7,157.7 L228.4,152.1 L230.1,148.2 L231.9,143.8 L233.6,139.8 L235.3,135.6 L237.0,131.2 L238.8,126.8 L240.5,121.4 L242.2,117.0 L243.9,113.0 L245.7,108.7 L247.4,102.5 L249.1,99.7 L250.8,96.6 L252.6,92.9 L254.3,89.6 L256.0,85.3 L257.7,81.3 L259.5,78.7 L261.2,75.2 L262.9,73.3 L264.6,71.4 L266.4,70.8 L268.1,67.1 L269.8,65.3 L271.5,62.8 L273.3,59.1 L275.0,55.5 L276.7,50.8 L278.4,49.2 L280.1,47.8 L281.9,46.3 L283.6,43.0 L285.3,41.4 L287.0,38.9 L288.8,37.5 L290.5,36.4 L292.2,32.8 L293.9,31.4 L295.7,29.4 L297.4,28.1 L299.1,25.6 L300.8,21.8 L302.6,24.0 L304.3,23.0 L306.0,22.3 L307.7,16.1 L309.5,16.7 L311.2,14.8 L312.9,15.1 L314.6,14.8 L316.4,15.4 L318.1,15.6 L319.8,15.2 L321.5,14.7 L323.3,13.6 L325.0,12.3 L326.7,14.1 L328.4,13.5 L330.2,13.2 L331.9,14.1 L333.6,12.4 L335.3,12.3 L337.1,10.1 L338.8,13.0 L340.5,12.3 L342.2,11.5 L344.0,12.5 L345.7,10.9 L347.4,11.2 L349.1,13.5 L350.8,12.1 L352.6,12.0 L354.3,11.7 L356.0,11.3 L357.7,10.7 L359.5,12.6 L361.2,10.1 L362.9,10.8 L364.6,9.8 L366.4,9.7 L368.1,7.5 L369.8,8.0 L371.5,11.7 L373.3,11.6 L375.0,9.6 L376.7,10.0 L378.4,10.7 L380.2,9.0 L381.9,11.9 L383.6,8.9 L385.3,9.3 L387.1,7.1 L388.8,11.6 L390.5,10.1 L392.2,11.7 L394.0,9.0 L395.7,10.3 L397.4,10.0 L399.1,10.1 L400.9,12.0 L402.6,12.2 L404.3,11.2 L406.0,9.3 L407.8,10.6 L409.5,11.1 L411.2,10.2 L412.9,10.2 L414.6,10.0 L416.4,8.5 L418.1,9.6 L419.8,11.0 L421.5,8.2 L423.3,9.2 L425.0,9.9 L426.7,7.5 L428.4,8.7 L430.2,7.0 L431.9,8.0 L433.6,7.1 L435.3,7.6 L437.1,8.0 L438.8,8.2 L440.5,8.4 L442.2,6.2 L444.0,10.4 L445.7,8.7 L447.4,8.0 L449.1,8.6 L450.9,9.7 L452.6,8.4 L454.3,9.1 L456.0,9.0 L457.8,10.1 L459.5,8.7 L461.2,10.0 L462.9,9.9 L464.7,9.3 L466.4,10.8 L468.1,9.5 L469.8,8.7 L470.5,8.3 L470.8,7.3 L471.1,6.3 L471.4,5.9 L471.6,5.9 L471.7,7.4 L472.0,13.7 L472.3,20.0 L472.6,24.6 L472.9,29.2 L473.2,33.7 L473.3,34.9 L473.5,38.1 L473.8,42.3 L474.1,46.2 L474.4,49.7 L474.7,52.7 L475.0,55.1 L475.0,55.2 L475.3,57.0 L475.6,58.4 L475.9,59.6 L476.2,60.6 L476.5,61.5 L476.7,62.1 L476.8,62.4 L477.1,63.3 L477.4,64.3 L477.7,65.3 L478.0,66.4 L478.3,67.5 L478.4,68.1 L478.6,68.5 L478.9,69.4 L479.2,70.3 L479.5,71.2 L479.8,72.1 L480.1,73.0 L480.2,73.2 L480.4,74.0 L480.7,75.0 L481.0,76.0 L481.3,76.9 L481.6,77.9 L481.9,78.8 L481.9,78.8 L483.6,83.3 L485.3,88.3 L487.1,91.4 L488.8,94.3 L490.5,97.5 L492.2,102.0 L494.0,105.7 L495.7,107.4 L497.4,110.3 L499.1,113.3 L500.9,115.6 L502.6,116.2 L504.3,119.2 L506.0,122.4 L507.8,124.0 L509.5,126.3 L511.2,128.2 L512.9,129.5 L514.7,132.3 L516.4,134.6 L518.1,135.9 L519.8,139.3 L521.6,142.1 L523.3,143.1 L525.0,145.1 L526.7,145.2 L528.5,148.0 L530.2,147.5 L531.9,150.8 L533.6,150.5 L535.4,152.1 L537.1,153.9 L538.8,156.0 L540.5,157.5 L542.2,158.9 L544.0,160.6 L545.7,162.7 L547.4,164.2 L549.1,164.5 L550.9,166.9 L552.6,166.3 L554.3,167.3 L556.0,168.2 L557.8,170.5 L559.5,169.6 L561.2,170.6 L562.9,173.8 L564.7,175.0 L566.4,175.6 L568.1,174.1 L569.8,176.2 L571.6,177.8 L573.3,178.0 L575.0,177.4 L576.7,179.3 L578.5,179.1 L580.2,180.3 L581.9,184.0 L583.6,183.7 L585.4,182.8 L587.1,183.6 L588.8,186.1 L590.5,185.9 L592.3,187.6 L594.0,187.1 L595.7,188.3 L597.0,189.4 L597.4,189.9 L599.2,192.8 L600.0,193.4 L600.9,192.4 L602.4,187.1 L604.9,187.1" stroke="#8c564b"/>
<path d="M82.8,349.7 L85.3,346.0 L87.0,343.5 L88.7,343.3 L90.5,343.7 L92.2,342.3 L93.9,344.4 L95.6,344.9 L97.4,343.3 L99.1,343.2 L100.8,344.2 L102.5,343.7 L104.3,343.5 L106.0,343.4 L107.7,343.2 L109.4,343.0 L111.2,344.8 L112.9,345.3 L114.6,343.2 L116.3,344.1 L118.1,344.4 L119.8,343.8 L121.5,343.5 L123.2,343.8 L125.0,342.3 L126.7,344.1 L128.4,343.9 L130.1,346.2 L131.9,345.1 L133.6,343.9 L135.3,344.2 L137.0,345.8 L138.8,345.7 L140.5,344.4 L142.2,344.1 L143.9,342.8 L145.7,343.9 L147.4,344.0 L149.1,343.5 L150.8,345.8 L152.5,342.4 L154.3,344.1 L156.0,344.6 L157.7,344.6 L159.4,345.8 L161.2,342.9 L162.9,343.5 L164.6,344.3 L166.3,344.3 L168.1,343.8 L169.8,343.5 L171.5,345.2 L173.2,343.2 L175.0,343.6 L176.7,345.5 L178.4,345.8 L180.1,345.0 L181.9,343.4 L183.6,343.4 L185.3,343.3 L187.0,343.1 L188.8,343.8 L190.5,345.4 L192.2,344.4 L193.9,343.5 L195.7,343.4 L197.4,343.1 L199.1,345.3 L200.8,342.3 L202.6,344.4 L204.3,342.8 L206.0,343.2 L207.7,342.8 L209.5,345.1 L211.2,344.1 L212.9,346.8 L213.0,346.6 L213.3,345.6 L213.6,345.2 L213.9,345.1 L214.2,339.7 L214.5,327.1 L214.6,320.8 L214.8,312.2 L215.1,300.0 L215.4,295.0 L215.7,292.5 L216.0,290.6 L216.3,289.1 L216.3,288.9 L216.6,287.9 L216.9,286.9 L217.2,286.0 L217.5,284.9 L217.8,283.6 L218.1,282.4 L218.1,282.3 L218.4,280.8 L218.7,279.4 L219.0,278.1 L219.3,276.7 L219.6,275.4 L219.8,274.6 L219.9,274.1 L220.2,272.9 L220.5,271.7 L220.8,270.6 L221.1,269.4 L221.4,268.3 L221.5,267.9 L221.7,267.2 L222.0,266.1 L222.3,265.0 L222.6,263.9 L222.9,262.9 L223.2,261.8 L223.2,261.6 L223.5,261.1 L223.8,260.4 L225.0,258.0 L226.7,253.1 L228.4,249.0 L230.1,245.0 L231.9,242.3 L233.6,238.7 L235.3,236.3 L237.0,233.6 L238.8,232.1 L240.5,228.8 L242.2,226.4 L243.9,224.7 L245.7,221.8 L247.4,219.6 L249.1,217.5 L250.8,216.4 L252.6,213.8 L254.3,213.5 L256.0,213.7 L257.7,211.6 L259.5,209.8 L261.2,208.5 L262.9,208.6 L264.6,206.6 L266.4,205.5 L268.1,205.2 L269.8,204.0 L271.5,204.6 L273.3,202.0 L275.0,203.8 L276.7,201.4 L278.4,201.6 L280.1,201.5 L281.9,200.5 L283.6,200.3 L285.3,198.3 L287.0,196.7 L288.8,198.0 L290.5,196.3 L292.2,196.9 L293.9,198.0 L295.7,196.7 L297.4,196.1 L299.1,195.3 L300.8,195.8 L302.6,195.6 L304.3,194.0 L306.0,195.4 L307.7,193.9 L309.5,194.7 L311.2,193.8 L312.9,194.8 L314.6,194.4 L316.4,193.4 L318.1,193.1 L319.8,193.3 L321.5,194.0 L323.3,193.5 L325.0,192.6 L326.7,192.6 L328.4,193.7 L330.2,190.6 L331.9,192.5 L333.6,191.1 L335.3,193.1 L337.1,191.3 L338.8,191.6 L340.5,190.6 L342.2,191.5 L344.0,192.2 L345.7,193.0 L347.4,190.2 L349.1,190.8 L350.8,194.8 L352.6,192.0 L354.3,191.0 L356.0,191.5 L357.7,188.4 L359.5,192.3 L361.2,190.9 L362.9,189.3 L364.6,191.7 L366.4,189.9 L368.1,189.5 L369.8,190.8 L371.5,190.6 L373.3,189.8 L375.0,190.1 L376.7,188.8 L378.4,188.6 L380.2,190.8 L381.9,191.1 L383.6,190.2 L385.3,190.1 L387.1,189.3 L388.8,189.5 L390.5,188.7 L392.2,191.2 L394.0,189.0 L395.7,189.9 L397.4,189.5 L399.1,188.2 L400.9,191.3 L402.6,189.1 L404.3,188.8 L406.0,189.6 L407.8,188.6 L409.5,189.5 L411.2,188.6 L412.9,190.0 L414.6,189.5 L416.4,188.2 L418.1,190.5 L419.8,189.7 L421.5,188.4 L423.3,189.8 L425.0,189.9 L426.7,191.2 L428.4,188.6 L430.2,190.3 L431.9,189.4 L433.6,190.1 L435.3,189.2 L437.1,189.4 L438.8,189.9 L440.5,188.3 L442.2,187.5 L444.0,189.5 L445.7,189.0 L447.4,189.5 L449.1,190.1 L450.9,189.3 L452.6,190.6 L454.3,189.4 L456.0,189.6 L457.8,190.2 L459.5,190.0 L461.2,189.4 L462.9,189.6 L464.7,188.7 L466.4,188.9 L468.1,189.5 L469.8,189.8 L470.5,187.9 L470.8,186.2 L471.1,184.9 L471.4,184.7 L471.6,185.8 L471.7,187.5 L472.0,191.9 L472.3,196.5 L472.6,201.8 L472.9,207.9 L473.2,215.0 L473.3,217.2 L473.5,223.9 L473.8,231.9 L474.1,236.5 L474.4,239.7 L474.7,242.4 L475.0,244.8 L475.0,244.8 L475.3,246.8 L475.6,248.6 L475.9,250.2 L476.2,251.7 L476.5,253.1 L476.7,254.2 L476.8,254.5 L477.1,255.8 L477.4,256.8 L477.7,257.8 L478.0,258.8 L478.3,259.7 L478.4,260.1 L478.6,260.7 L478.9,261.8 L479.2,262.9 L479.5,264.0 L479.8,265.1 L480.1,266.1 L480.2,266.4 L480.4,267.2 L480.7,268.2 L481.0,269.3 L481.3,270.5 L481.6,271.9 L481.9,273.2 L481.9,273.3 L483.6,279.6 L485.3,284.2 L487.1,287.9 L488.8,291.5 L490.5,294.4 L492.2,296.9 L494.0,299.8 L495.7,302.5 L497.4,305.5 L499.1,307.5 L500.9,310.0 L502.6,312.4 L504.3,312.6 L506.0,314.6 L507.8,316.5 L509.5,317.4 L511.2,317.8 L512.9,320.2 L514.7,320.3 L516.4,320.5 L518.1,323.5 L519.8,322.0 L521.6,323.8 L523.3,324.0 L525.0,325.4 L526.7,326.5 L528.5,326.0 L530.2,327.1 L531.9,327.6 L533.6,327.3 L535.4,329.6 L537.1,329.3 L538.8,329.4 L540.5,329.7 L542.2,330.6 L544.0,331.7 L545.7,332.0 L547.4,334.2 L549.1,331.9 L550.9,332.8 L552.6,334.8 L554.3,333.9 L556.0,335.9 L557.8,335.7 L559.5,337.1 L561.2,337.3 L562.9,338.4 L564.7,338.3 L566.4,338.8 L568.1,338.4 L569.8,339.1 L571.6,338.7 L573.3,337.9 L575.0,337.5 L576.7,337.6 L578.5,339.3 L580.2,336.8 L581.9,339.3 L583.6,338.6 L585.4,340.1 L587.1,339.7 L588.8,338.8 L590.5,339.6 L592.3,337.4 L594.0,339.7 L595.7,339.8 L597.4,337.6 L599.2,339.4 L600.9,338.9 L602.6,338.8 L605.1,338.8" stroke="#e377c2"/>
<path d="M82.8,333.2 L85.3,329.2 L87.0,326.5 L88.7,323.7 L90.5,320.8 L92.2,320.1 L93.9,318.7 L95.6,316.5 L97.4,315.4 L99.1,312.6 L100.8,311.4 L102.5,310.0 L104.3,308.8 L106.0,311.2 L107.7,309.3 L109.4,309.5 L111.2,311.8 L112.9,310.7 L114.6,312.1 L116.3,312.5 L118.1,311.1 L119.8,311.1 L121.5,310.3 L123.2,311.1 L125.0,310.0 L126.7,312.1 L128.4,310.7 L130.1,309.6 L131.9,308.1 L133.6,311.0 L135.3,310.0 L137.0,308.9 L138.8,308.3 L140.5,307.9 L142.2,307.0 L143.9,309.0 L145.7,307.1 L147.4,305.3 L149.1,305.9 L150.8,303.7 L152.5,306.7 L154.3,306.6 L156.0,307.3 L157.7,307.4 L159.4,304.3 L161.2,305.3 L162.9,305.6 L164.6,305.2 L166.3,303.7 L168.1,304.9 L169.8,304.4 L171.5,305.1 L173.2,303.6 L175.0,303.3 L176.7,302.9 L178.4,303.0 L180.1,302.6 L181.9,303.0 L183.6,303.9 L185.3,303.9 L187.0,304.8 L188.8,304.5 L190.5,304.0 L192.2,302.2 L193.9,304.0 L195.7,304.6 L197.4,302.0 L199.1,302.2 L200.8,302.4 L202.6,302.3 L204.3,303.1 L206.0,302.4 L207.7,303.8 L209.5,302.2 L211.2,303.7 L212.9,311.3 L213.0,311.4 L213.3,311.5 L213.6,311.8 L213.9,309.3 L214.2,302.8 L214.5,286.8 L214.6,274.8 L214.8,260.0 L215.1,242.3 L215.4,227.0 L215.7,213.2 L216.0,200.0 L216.3,187.1 L216.3,185.5 L216.6,179.4 L216.9,173.6 L217.2,168.9 L217.5,165.1 L217.8,161.8 L218.1,159.1 L218.1,158.8 L218.4,156.2 L218.7,153.9 L219.0,151.7 L219.3,149.7 L219.6,147.8 L219.8,146.6 L219.9,145.9 L220.2,144.0 L220.5,142.1 L220.8,140.2 L221.1,138.4 L221.4,136.6 L221.5,135.9 L221.7,134.9 L222.0,133.3 L222.3,131.8 L222.6,130.3 L222.9,129.0 L223.2,127.7 L223.2,127.5 L223.5,126.4 L223.8,125.1 L225.0,120.8 L226.7,115.4 L228.4,110.3 L230.1,108.4 L231.9,106.0 L233.6,103.7 L235.3,101.9 L237.0,99.8 L238.8,98.0 L240.5,95.4 L242.2,94.6 L243.9,93.6 L245.7,91.7 L247.4,90.3 L249.1,91.4 L250.8,89.3 L252.6,87.5 L254.3,86.5 L256.0,84.0 L257.7,84.5 L259.5,85.1 L261.2,85.9 L262.9,82.3 L264.6,82.9 L266.4,84.7 L268.1,83.1 L269.8,82.5 L271.5,82.8 L273.3,81.3 L275.0,80.9 L276.7,81.5 L278.4,81.4 L280.1,79.3 L281.9,81.6 L283.6,78.2 L285.3,79.0 L287.0,82.5 L288.8,78.7 L290.5,79.6 L292.2,77.7 L293.9,78.2 L295.7,77.6 L297.4,77.7 L299.1,78.5 L300.8,79.5 L302.6,78.4 L304.3,78.9 L306.0,76.7 L307.7,78.5 L309.5,77.4 L311.2,77.9 L312.9,75.9 L314.6,75.8 L316.4,77.1 L318.1,76.1 L319.8,75.3 L321.5,74.3 L323.3,74.7 L325.0,75.1 L326.7,75.3 L328.4,73.9 L330.2,74.0 L331.9,74.6 L333.6,73.0 L335.3,75.0 L337.1,73.9 L338.8,73.7 L340.5,71.3 L342.2,72.1 L344.0,72.6 L345.7,73.0 L347.4,72.4 L349.1,73.8 L350.8,73.5 L352.6,73.0 L354.3,71.2 L356.0,74.7 L357.7,72.9 L359.5,73.7 L361.2,72.4 L362.9,73.0 L364.6,73.7 L366.4,73.2 L368.1,73.9 L369.8,72.6 L371.5,74.9 L373.3,70.8 L375.0,72.1 L376.7,73.7 L378.4,72.3 L380.2,72.1 L381.9,70.7 L383.6,73.7 L385.3,70.4 L387.1,72.9 L388.8,72.5 L390.5,73.2 L392.2,73.7 L394.0,71.5 L395.7,71.3 L397.4,71.7 L399.1,70.2 L400.9,72.8 L402.6,71.5 L404.3,72.0 L406.0,70.6 L407.8,71.8 L409.5,71.1 L411.2,71.6 L412.9,70.5 L414.6,72.6 L416.4,70.8 L418.1,68.8 L419.8,72.1 L421.5,71.1 L423.3,70.4 L425.0,73.9 L426.7,71.2 L428.4,69.8 L430.2,70.6 L431.9,71.6 L433.6,70.9 L435.3,72.4 L437.1,72.2 L438.8,70.3 L440.5,71.1 L442.2,71.8 L444.0,70.7 L445.7,70.6 L447.4,72.0 L449.1,71.5 L450.9,69.6 L452.6,70.5 L454.3,70.6 L456.0,70.9 L457.8,70.3 L459.5,72.4 L461.2,70.0 L462.9,69.8 L464.7,71.1 L466.4,68.5 L468.1,69.7 L469.8,71.1 L470.5,68.4 L470.8,66.0 L471.1,63.9 L471.4,63.9 L471.6,65.7 L471.7,68.4 L472.0,74.9 L472.3,83.0 L472.6,93.7 L472.9,105.8 L473.2,119.5 L473.3,123.5 L473.5,135.3 L473.8,148.6 L474.1,160.6 L474.4,171.6 L474.7,182.0 L475.0,192.2 L475.0,192.2 L475.3,200.9 L475.6,206.7 L475.9,211.1 L476.2,214.9 L476.5,218.3 L476.7,220.5 L476.8,221.2 L477.1,223.8 L477.4,226.1 L477.7,228.2 L478.0,230.3 L478.3,232.2 L478.4,233.1 L478.6,234.1 L478.9,235.8 L479.2,237.5 L479.5,239.0 L479.8,240.5 L480.1,241.9 L480.2,242.3 L480.4,243.2 L480.7,244.4 L481.0,245.5 L481.3,246.6 L481.6,247.6 L481.9,248.5 L481.9,248.5 L483.6,254.0 L485.3,257.7 L487.1,262.0 L488.8,263.6 L490.5,266.0 L492.2,268.4 L494.0,270.4 L495.7,271.0 L497.4,272.9 L499.1,276.3 L500.9,275.8 L502.6,277.8 L504.3,280.1 L506.0,281.4 L507.8,280.0 L509.5,282.8 L511.2,282.0 L512.9,284.5 L514.7,284.3 L516.4,284.4 L518.1,286.0 L519.8,286.7 L521.6,286.3 L523.3,289.5 L525.0,287.6 L526.7,289.4 L528.5,288.1 L530.2,287.2 L531.9,288.2 L533.6,289.5 L535.4,290.6 L537.1,292.0 L538.8,290.8 L540.5,290.8 L542.2,290.3 L544.0,291.8 L545.7,292.5 L547.4,290.3 L549.1,294.0 L550.9,294.0 L552.6,295.3 L554.3,292.3 L556.0,293.4 L557.8,293.5 L559.5,292.1 L561.2,292.6 L562.9,292.5 L564.7,294.1 L566.4,294.1 L568.1,295.2 L569.8,293.6 L571.6,292.9 L573.3,295.0 L575.0,295.1 L576.7,295.6 L578.5,296.3 L580.2,294.5 L581.9,296.0 L583.6,294.2 L585.4,295.5 L587.1,296.1 L588.8,295.3 L590.5,295.7 L592.3,294.2 L594.0,295.0 L595.7,295.9 L597.4,294.7 L599.2,295.8 L600.9,296.9 L602.6,296.3 L605.1,296.3" stroke="#7f7f7f"/>
</g>
<g class="l">
<text transform="translate(617.70,194.80) scale(1,1.03)" text-anchor="start" fill="#8c564b">SNP</text>
<text transform="translate(617.70,252.60) scale(1,1.03)" text-anchor="start" fill="#1f77b4">LNP</text>
<text transform="translate(617.70,273.00) scale(1,1.03)" text-anchor="start" fill="#d62728">SSP</text>
<text transform="translate(617.70,292.90) scale(1,1.03)" text-anchor="start" fill="#7f7f7f">RPI4</text>
<text transform="translate(617.70,312.90) scale(1,1.03)" text-anchor="start" fill="#9467bd">SSP Vertical</text>
<text transform="translate(617.70,333.30) scale(1,1.03)" text-anchor="start" fill="#2ca02c">SHT</text>
<text transform="translate(617.70,353.70) scale(1,1.03)" text-anchor="start" fill="#e377c2">RPI4 + heat sink</text>
<text transform="translate(617.70,373.50) scale(1,1.03)" text-anchor="start" fill="#ff7f0e">SHP</text>
</g>
</svg>
</body></html>
